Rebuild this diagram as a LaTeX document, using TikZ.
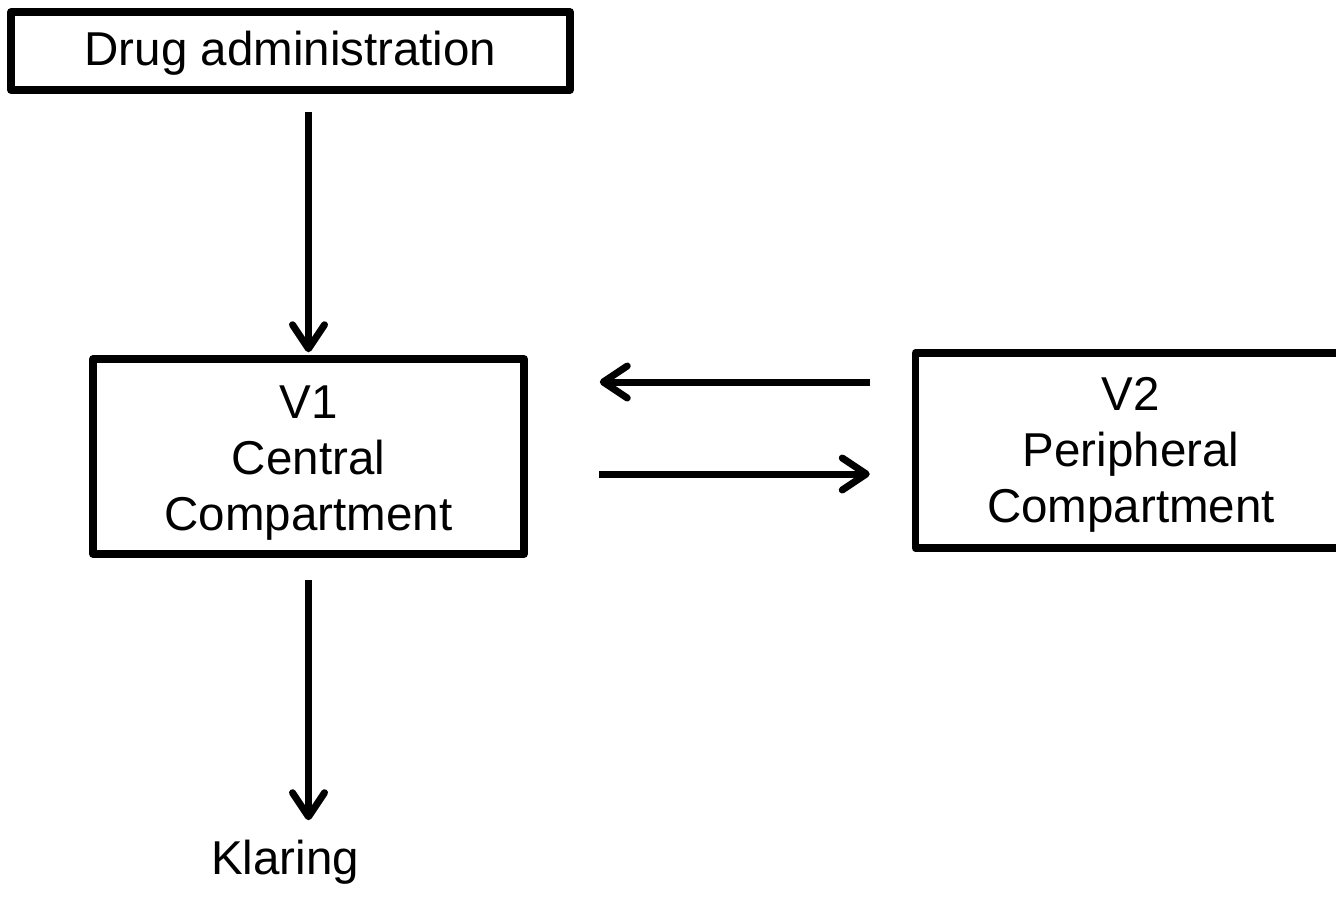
\documentclass[tikz,border=0pt]{standalone}
\usepackage{fontspec}
\setmainfont{Liberation Sans}
\usetikzlibrary{arrows.meta,positioning}

\newcommand{\bigfont}{\fontsize{23.75pt}{28pt}\selectfont}
\newcommand{\lowtext}[2][3pt]{\raisebox{-#1}[\height][\depth]{\begin{tabular}{@{}c@{}}#2\end{tabular}}}
\tikzset{
  compbox/.style={draw, line width=3.75pt, line join=round, inner sep=0pt,
                  align=center, minimum width=215.5pt, minimum height=97.5pt,
                  font=\bigfont},
  flow/.style={line width=3.5pt, -{Straight Barb[length=12pt,width=16pt,round]}},
}

\begin{document}
\begin{tikzpicture}[x=0.5pt,y=-0.5pt]
  \clip (0,0) rectangle (1336,902);
  % boxes
  \node[compbox, minimum width=279.5pt, minimum height=39pt] (admin) at (290.5,51) {\lowtext[1.5pt]{Drug administration}};
  \node[compbox] (v1) at (308.5,456.5) {\lowtext[3.5pt]{V1\\Central\\Compartment}};
  \node[compbox, right=192pt of v1, yshift=3pt] (v2) {\lowtext[2.5pt]{V2\\Peripheral\\Compartment}};
  \node[font=\bigfont, inner sep=0pt, anchor=base] (klaring) at (285,874) {Klaring};
  \coordinate (backrow) at (0,382);
  \coordinate (fwdrow) at (0,474);
  % arrows
  \draw[flow, shorten <=9pt, shorten >=1.5pt] (v1.north |- admin.south) -- (v1.north);
  \draw[flow, shorten <=21pt, shorten >=36pt] (v2.west |- backrow) -- (v1.east |- backrow);
  \draw[flow, shorten <=35.5pt, shorten >=21pt] (v1.east |- fwdrow) -- (v2.west |- fwdrow);
  \draw[flow, shorten <=11pt, shorten >=9.5pt] (v1.south) -- (v1.south |- klaring.north);
\end{tikzpicture}
\end{document}
